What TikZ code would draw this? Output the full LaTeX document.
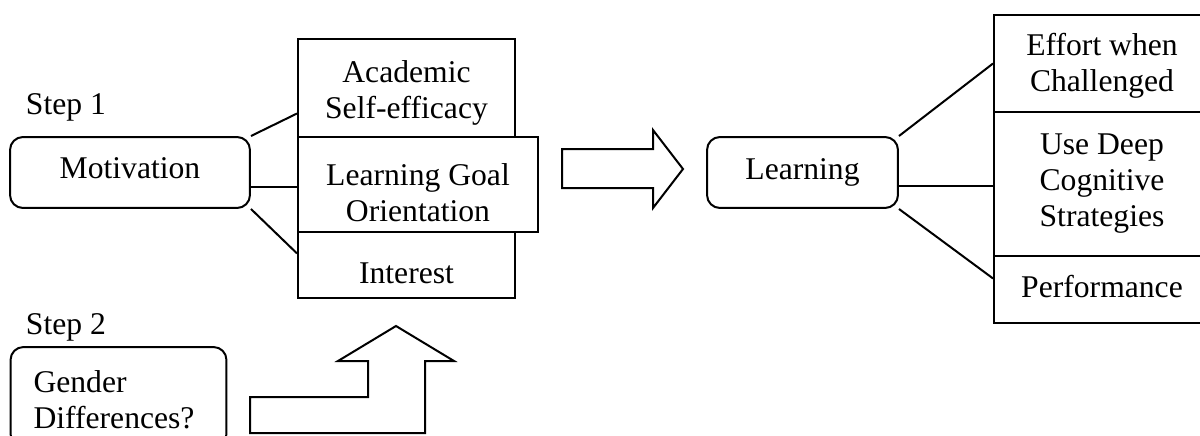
\documentclass[tikz,border=0pt]{standalone}
\usepackage{fontspec}
\setmainfont{Liberation Serif}
\usetikzlibrary{calc}
\tikzset{
	box/.style = {draw, line width = 0.04cm, align = center, inner sep = 0pt, font = \fontsize{18}{20.5}\selectfont},
	rbox/.style = {box, rounded corners = 0.26cm},
	steplabel/.style = {anchor = west, inner sep = 0pt, font = \fontsize{18}{20.5}\selectfont}
}
\begin{document}
\begin{tikzpicture}[x = 0.02cm, y = -0.02cm, line width = 0.04cm]
	\clip (0, 0) rectangle (1200, 436);
	% step 1: motivation and its three parts
	\node [steplabel] (step1) at (25, 107) {Step 1};
	\node [rbox, minimum width = 4.8cm, minimum height = 1.42cm, text depth = 0.16cm] (mot) at (130, 172.5) {Motivation};
	\node [box, minimum width = 4.34cm, minimum height = 1.96cm, text height = 1.35cm, text depth = 0.14cm] (acad) at (406.5, 88) {Academic\\Self-efficacy};
	\node [box, minimum width = 4.8cm, minimum height = 1.9cm, text height = 1.47cm, text depth = 0cm] (lgo) at (418, 184.5) {Learning Goal\\Orientation};
	\node [box, minimum width = 4.34cm, minimum height = 1.32cm, text height = 0.74cm, text depth = 0cm] (intr) at (406.5, 265) {Interest};
	\draw (mot.north east) -- ($(acad.south west)!0.245!(acad.north west)$);
	\coordinate (mmid) at ($(mot.south east)!0.3!(mot.north east)$);
	\draw (mmid) -- (mmid -| lgo.west);
	\draw (mot.south east) -- ($(intr.north west)!0.33!(intr.south west)$);
	% step 2
	\node [steplabel] (step2) at (25, 327) {Step 2};
	\node [rbox, align = left, text width = 3.4cm, inner xsep = 0.46cm, minimum height = 2cm, text height = 0.55cm] (gender) at (118.5, 397) {Gender\\Differences?};
	% block arrows
	\draw (250, 433) -- (250, 397) -- (368, 397) -- (368, 361) -- (338, 361) -- (396, 326) -- (454, 361) -- (425, 361) -- (425, 433) -- cycle;
	\draw (562, 149) -- (653, 149) -- (653, 130) -- (683, 169) -- (653, 208) -- (653, 188) -- (562, 188) -- cycle;
	% learning and its three parts
	\node [rbox, minimum width = 3.82cm, minimum height = 1.42cm] (learn) at (802.5, 172.5) {Learning};
	\node [box, minimum width = 4.32cm, minimum height = 1.94cm, text height = 1.27cm, text depth = 0.14cm] (effort) at (1102, 63.5) {Effort when\\Challenged};
	\node [box, minimum width = 4.32cm, minimum height = 2.88cm] (deep) at (1102, 184) {Use Deep\\Cognitive\\Strategies};
	\node [box, minimum width = 4.32cm, minimum height = 1.34cm, text depth = 0.12cm] (perf) at (1102, 289.5) {Performance};
	\draw (learn.north east) -- (effort.west);
	\coordinate (lmid) at ($(learn.south east)!0.32!(learn.north east)$);
	\draw (lmid) -- (lmid -| deep.west);
	\draw (learn.south east) -- ($(perf.north west)!0.34!(perf.south west)$);
\end{tikzpicture}
\end{document}
